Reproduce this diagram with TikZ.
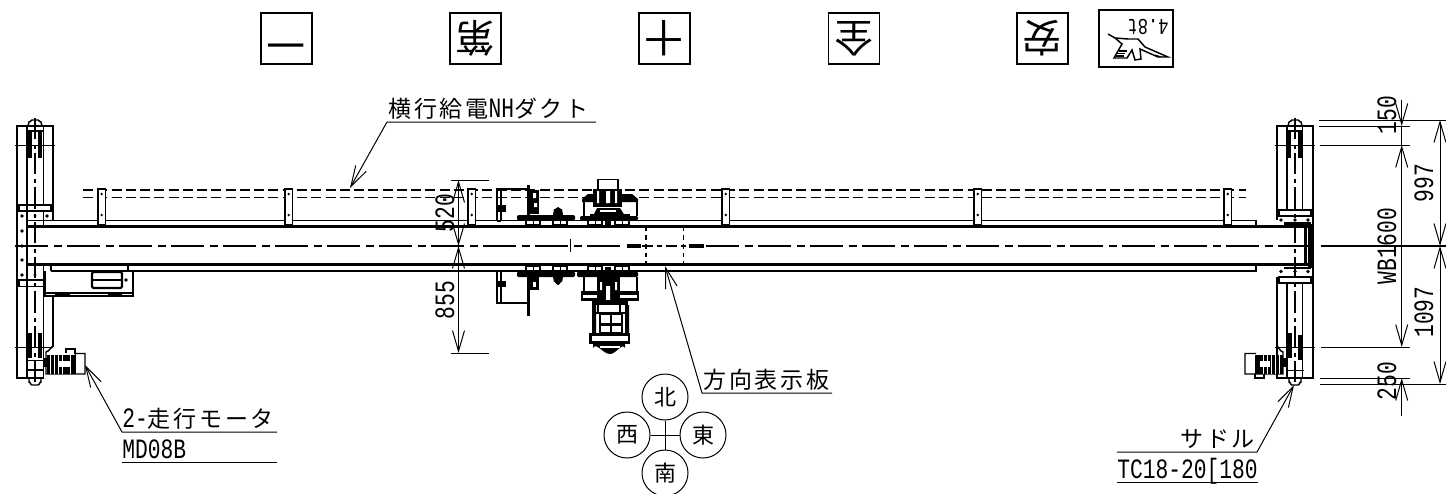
\documentclass[tikz,border=0pt]{standalone}
\usepackage{fontspec}
\usetikzlibrary{arrows.meta}
\setmainfont{Liberation Sans}
\newfontfamily\jpfont[LetterSpace=12]{Noto Sans CJK JP}
\newfontfamily\jpplain{Noto Sans CJK JP}
\newfontfamily\latfont[FakeStretch=0.76]{Liberation Mono}
\newcommand{\jpt}[1]{{\fontsize{17.25pt}{18pt}\jpfont #1}}
\newcommand{\lat}[1]{{\fontsize{21pt}{22pt}\latfont #1}}
\tikzset{
  thinl/.style={line width=0.75pt,black},
  med/.style={line width=1.1pt,black},
  heavy/.style={line width=1.6pt,black},
  bold/.style={line width=2.6pt,black},
  center line/.style={line width=1pt,black,dash pattern=on 24.75pt off 4.5pt on 6pt off 3.75pt},
  duct/.style={line width=0.9pt,black,dash pattern=on 7.5pt off 3.2pt},
  hid/.style={line width=0.8pt,black,dash pattern=on 3.5pt off 3pt},
  dim/.style={line width=0.75pt,black,>={Straight Barb[length=15.5pt,width=9pt]}},
  lab/.style={inner sep=0pt,anchor=base west},
  dimt/.style={inner sep=0pt,rotate=90,anchor=center},
  kbox/.style={draw,line width=1.1pt,minimum size=38pt,inner sep=0pt},
  comp/.style={draw,circle,line width=0.75pt,minimum size=34.5pt,inner sep=0pt,font=\fontsize{16.5pt}{17pt}\jpplain}
}
\begin{document}
\begin{tikzpicture}[x=0.75pt,y=-0.75pt]
\useasboundingbox (0,0) rectangle (1446,493);
\fill[white] (0,0) rectangle (1446,493);
% top plates
\node[kbox] (k1) at (286.5,38.5) {\rotatebox{180}{\fontsize{29pt}{29pt}\jpplain 一}};
\node[kbox] (k2) at (475.5,38.5) {\rotatebox{180}{\fontsize{29pt}{29pt}\jpplain 第}};
\node[kbox] (k3) at (664.5,38.5) {\rotatebox{180}{\fontsize{29pt}{29pt}\jpplain 十}};
\node[kbox] (k4) at (854,38.5) {\rotatebox{180}{\fontsize{29pt}{29pt}\jpplain 全}};
\node[kbox] (k5) at (1042.5,38.5) {\rotatebox{180}{\fontsize{29pt}{29pt}\jpplain 安}};
\draw[heavy] (1099,10) rectangle (1173,67);
\node[inner sep=0pt,rotate=180] (k6) at (1148,27) {\fontsize{17pt}{18pt}\latfont 4.8t};
% hook symbol
\draw[med] (1108,34) -- (1115,38) -- (1128,39) -- (1138,39) -- (1145,47) -- (1168,57) -- (1158,57) -- (1140,49) -- (1141,59) -- (1135,60) -- (1132,50) -- (1127,58) -- (1114,58) -- (1122,44) -- (1115,38);
\draw[line width=1pt] (1116,56) -- (1124,56) (1117,53.5) -- (1125,53.5) (1119,51) -- (1127,51);
\fill (1155,54.5) -- (1163,57) -- (1156,57) -- cycle;
% duct
\draw[duct] (83,190) -- (1246,190);
\draw[duct] (83,197.5) -- (1246,197.5);
% beam
\draw[heavy] (27,226.5) -- (1310,226.5);
\draw[heavy] (27,264.5) -- (1310,264.5);
\draw[med] (27,220.5) -- (1256,220.5) -- (1256,226.5);
\draw[med] (51,271) -- (1256,271) -- (1256,264.5);
\draw[med] (128,264.5) -- (128,271) (51,264.5) -- (51,271);
\draw[center line] (15,246) -- (625,246);
\draw[center line] (706,246) -- (1315,246);
\draw[line width=1pt,dash pattern=on 8pt off 3pt on 4pt off 3pt] (642,246) -- (688,246);
\draw[line width=2.4pt] (627,246) -- (641,246) (689,246) -- (704,246);
\draw[thinl] (570,239) -- (570,252);
\draw[hid] (646,226.5) -- (646,265) (683.7,226.5) -- (683.7,265);
% brackets
\foreach \bx in {98,285,468,722,974,1224}{
  \fill[white] (\bx,189) rectangle (\bx+7.5,226);
  \draw[med] (\bx,189) rectangle (\bx+7.5,226);
  \fill (\bx+3.7,194) circle (1.3) (\bx+3.7,215) circle (1.3);
  \draw[heavy] (\bx,225) -- (\bx+7.5,225);
}
% left saddle
\draw[heavy] (53,220.5) -- (53,126) -- (17,126) -- (17,378) -- (44,378);
\draw[med] (53,296) -- (53,347);
\draw[med] (27,126) -- (27,378) (43.5,126) -- (43.5,205) (43.5,286) -- (43.5,378);
\draw[thinl] (15,145) -- (55,145) (15,347) -- (53,347) (27,360) -- (45,360);
\draw[med] (19,205) rectangle (51,211);
\draw[med] (19,280) rectangle (44,286.5);
\draw[med] (43.5,211) -- (43.5,226.5);
\draw[med] (43.5,264.5) -- (43.5,280);
\foreach \dy in {216,231,246,260,275}{\fill (22,\dy) circle (1.9);}
\fill (35,216) circle (1.7) (47,216) circle (1.9) (35,275) circle (1.7);
\draw[center line,dash pattern=on 16pt off 4pt on 3pt off 3pt] (35,118) -- (35,385);
% left wheels
\draw[bold] (30,132) -- (30,158);
\draw[bold] (40,132) -- (40,158);
\draw[med] (27,131) -- (43,131);
\draw[med] (28,126) -- (29,122) to[out=-70,in=180] (32,120) -- (38,120) to[out=0,in=-110] (41,122) -- (42,126);
\draw[bold] (30,333) -- (30,358);
\draw[line width=3.4pt] (40,333) -- (40,358);
\draw[med] (29,378) -- (29,382) to[out=70,in=180] (32,385) -- (38,385) to[out=0,in=110] (41,382) -- (41,378);
\draw[med] (27,370) -- (44,370);
% left box under beam
\draw[med] (45,271) -- (45,296) -- (133,296) -- (133,271);
\draw[med] (45,293) -- (133,293);
\draw[line width=2.4pt] (55,293.5) -- (70,293.5) (108,293.5) -- (122,293.5);
\draw[heavy,rounded corners=1pt] (92,272) rectangle (122,288);
\draw[med] (92,280) -- (122,280);
\fill (126,280) circle (1.8) (122,275) circle (1.2) (122,285) circle (1.2);
% left motor
\draw[med] (53,347) to[out=90,in=0] (46,352) -- (46,374) -- (85,374) -- (85,353.5) -- (74,353.5);
\fill (47,355) rectangle (75,374);
\foreach \mx in {50,54,58,62,70}{\draw[white,line width=0.35pt] (\mx,355) -- (\mx,374);}
\fill[white] (58,361) rectangle (70,367);
\draw[thinl] (75,353.5) -- (75,374);
\draw[med] (66,353) -- (66,349) -- (75,349) -- (75,353);
\fill (43,358) rectangle (47,367);
% right saddle
\draw[heavy] (1277,220) -- (1277,126) -- (1313,126) -- (1313,378) -- (1277,378) -- (1277,277);
\draw[med] (1277,352) -- (1277,378);
\draw[med] (1287,126) -- (1287,210) (1302.5,126) -- (1302.5,210) (1287,283) -- (1287,378) (1302.5,283) -- (1302.5,378);
\draw[thinl] (1275,145) -- (1315,145) (1275,347) -- (1315,347) (1287,370) -- (1304,370);
\draw[med] (1279,210) rectangle (1311,216) (1279,277) rectangle (1311,283);
\draw[thinl] (1278,216) -- (1313,216) (1278,276) -- (1313,276);
\foreach \dx in {1281,1295,1308}{\fill (\dx,220) circle (1.9) (\dx,271.5) circle (1.9);}
\draw[heavy] (1284,223.5) -- (1309.5,223.5) -- (1309.5,268) -- (1284,268);
\draw[heavy] (1305.5,226) -- (1305.5,265);
\draw[line width=2.2pt] (1310.5,224) -- (1310.5,268);
\draw[center line,dash pattern=on 16pt off 4pt on 3pt off 3pt] (1295,118) -- (1295,385);
\draw[line width=1pt] (1321,246) -- (1446,246);
% right wheels
\draw[bold] (1289,132) -- (1289,158);
\draw[bold] (1300,132) -- (1300,158);
\draw[med] (1287,131) -- (1303,131);
\draw[med] (1288,126) -- (1289,122) to[out=-70,in=180] (1292,120) -- (1298,120) to[out=0,in=-110] (1301,122) -- (1302,126);
\draw[line width=3.4pt] (1289.5,333) -- (1289.5,358);
\draw[bold] (1300,335) -- (1300,360);
\draw[med] (1289,378) -- (1289,382) to[out=70,in=180] (1292,385) -- (1298,385) to[out=0,in=110] (1301,382) -- (1301,378);
% right motor
\draw[med] (1277,347) to[out=90,in=180] (1283,352) -- (1283,374) -- (1245,374) -- (1245,353.5) -- (1256,353.5);
\fill (1255,355) rectangle (1283,374);
\foreach \mx in {1263,1267,1271,1275,1279}{\draw[white,line width=0.35pt] (\mx,355) -- (\mx,374);}
\fill[white] (1260,361) rectangle (1270,367);
\draw[med] (1255,374) -- (1255,378) -- (1264,378) -- (1264,374);
\fill (1283,358) rectangle (1287,367);
% centre machine upper
\draw[med] (497,221) -- (497,189) -- (529,189) (501,189) -- (501,221) (497,221) -- (501,221);
\fill (497,205) rectangle (506,212);
\draw[line width=2.2pt] (528.5,185) -- (528.5,216);
\fill (530,190) rectangle (539,214);
\fill[white] (533,193) rectangle (536,198) (534,203) rectangle (537,207);
\fill[rounded corners=1pt] (517,215) rectangle (575,220.5);
\fill[rounded corners=1pt] (580,216) rectangle (638,220.5);
\fill (553,215) -- (554,209) to[out=-70,in=180] (558,207) to[out=0,in=-110] (562,209) -- (563,215) -- cycle;
\foreach \nx in {526,553,588,615}{
  \draw[med] (\nx,220.5) -- (\nx,225) -- (\nx+14,225) -- (\nx+14,220.5);
  \draw[thinl] (\nx+7,220.5) -- (\nx+7,225);
}
\draw[med] (598,190) -- (598,179.5) -- (618,179.5) -- (618,190);
\fill (582,199) -- (588,194) -- (632,194) -- (638,199) -- (638,202) -- (582,202) -- cycle;
\draw[heavy] (584,202) -- (584,216) (637,202) -- (637,216);
\fill (593,189) rectangle (622,207);
\fill[white] (597,191) rectangle (599,203) (606,191) rectangle (610,203) (615,191) rectangle (617,203);
\fill (593,216) -- (597,208) -- (620,208) -- (625,216) -- cycle;
\fill[white] (600,210) rectangle (616,212);
\fill (605,220.5) rectangle (611,225);
\fill (590,214) rectangle (630,217);
% centre machine lower
\draw[med] (497,271) -- (497,303) -- (529,303) (501,271) -- (501,303);
\fill (497,281) rectangle (506,287);
\draw[line width=2.2pt] (528.5,271) -- (528.5,316);
\fill (530,277) rectangle (539,290);
\fill[white] (533,282) rectangle (536,287);
\fill[rounded corners=1pt] (517,271.5) rectangle (575,277);
\fill[rounded corners=1pt] (577,271.5) rectangle (638,277);
\fill (553,277) -- (554,282) to[out=70,in=180] (558,285) to[out=0,in=110] (562,282) -- (563,277) -- cycle;
\foreach \nx in {526,553,588,615}{
  \draw[med] (\nx,271) -- (\nx,266.5) -- (\nx+14,266.5) -- (\nx+14,271);
  \draw[thinl] (\nx+7,266.5) -- (\nx+7,271);
}
\fill (605,266.5) rectangle (611,271);
\draw[heavy] (584,277) -- (584,291) (637,277) -- (637,291);
\draw[heavy] (582,292) rectangle (638,299.5);
\fill (582,291) rectangle (638,294.5);
\fill (597,277) rectangle (620,300);
\fill[white] (600,282) rectangle (602,290) (606,286) rectangle (610,300) (615,282) rectangle (617,290);
\fill (592,300) rectangle (628,305);
\draw[med] (598,304) rectangle (620,313);
\fill[white] (599,305.5) rectangle (619,312);
\fill (592,305) rectangle (596,333) (625,305) rectangle (629,333);
\draw[heavy] (600,313.5) rectangle (622,333);
\draw[heavy] (611,313.5) -- (611,333) (600,324.5) -- (622,324.5);
\draw[heavy] (596,313) -- (625,313);
\fill (589,333) rectangle (630,344);
\fill[white] (591.5,336) rectangle (627.5,341);
\fill (593,344) -- (625,344) -- (625,348) to[out=120,in=0] (610,354) to[out=180,in=60] (593,348) -- cycle;
\fill[white] (600,346) rectangle (620,347.5);
% dim 520 / 855
\draw[thinl] (451,180) -- (489,180) (451,353) -- (489,353);
\draw[dim,<->] (458.5,180) -- (458.5,246);
\draw[dim,<->] (458.5,246) -- (458.5,353);
\node[dimt] (d520) at (445,213) {\lat{520}};
\node[dimt] (d855) at (445,300) {\lat{855}};
% right dims
\draw[thinl] (1319,120) -- (1446,120) (1319,126) -- (1410,126) (1320,145) -- (1410,145);
\draw[thinl] (1321,347) -- (1410,347) (1320,378) -- (1410,378) (1320,384) -- (1446,384);
\draw[dim,->] (1401.7,100) -- (1401.7,126);
\draw[dim,<->] (1401.7,145) -- (1401.7,347);
\draw[thinl] (1401.7,126) -- (1401.7,145);
\draw[dim,<-] (1401.7,378) -- (1401.7,416);
\draw[dim,<->] (1440,120) -- (1440,246);
\draw[dim,<->] (1440,246) -- (1440,384);
\node[dimt] (d150) at (1387,115) {\lat{150}};
\node[dimt] (dwb) at (1387,246) {\lat{WB1600}};
\node[dimt] (d250) at (1387,381) {\lat{250}};
\node[dimt] (d997) at (1424,183) {\lat{997}};
\node[dimt] (d1097) at (1424,312) {\lat{1097}};
% labels
\draw[dim,<-] (350,188) -- (387,122) -- (596,122);
\node[lab] (t1) at (388,117) {\jpt{横行給電}\lat{NH}\jpt{ダクト}};
\draw[dim,<-] (665,266) -- (702,393) -- (832,393);
\node[lab] (t2) at (703,388) {\jpt{方向表示板}};
\draw[dim,<-] (85,365) -- (122,432) -- (277,432);
\node[lab] (t3) at (122,427) {\lat{2-}\jpt{走行モータ}};
\draw[thinl] (122,462) -- (277,462);
\node[lab] (t4) at (122,458) {\lat{MD08B}};
\draw[dim,<-] (1294,385) -- (1257,452) -- (1117,452);
\node[lab] (t5) at (1180,447) {\jpt{サドル}};
\draw[thinl] (1117,482) -- (1258,482);
\node[lab] (t6) at (1117,478) {\lat{TC18-20[180}};
% compass
\node[comp] (n) at (665,397) {北};
\node[comp] (w) at (627,435) {西};
\node[comp] (e) at (703,435) {東};
\node[comp] (s) at (665,473) {南};
\draw[thinl] (n) -- (s) (w) -- (e);
\end{tikzpicture}
\end{document}
